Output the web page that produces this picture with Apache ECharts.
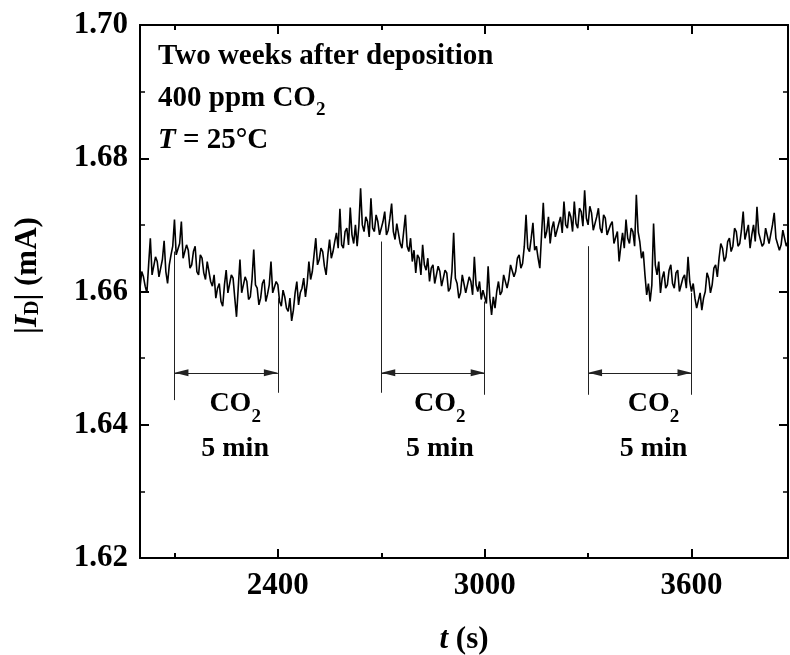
<!DOCTYPE html>
<html>
<head>
<meta charset="utf-8">
<script src="https://cdn.jsdelivr.net/npm/echarts@6/dist/echarts.min.js"></script>
<style>
  html, body { margin: 0; padding: 0; background: #fff; }
  #chart { width: 790px; height: 655px; }
</style>
</head>
<body>
<div id="chart"></div>
<script>
// sampled drain current, one point every 5 s from 2000 s
var tStart = 2000;
var tStep = 5;
var current = [
  1.6605, 1.6630, 1.6622, 1.6608, 1.6598, 1.6640, 1.6680, 1.6625, 1.6628, 1.6652,
  1.6645, 1.6622, 1.6635, 1.6648, 1.6676, 1.6630, 1.6612, 1.6640, 1.6655, 1.6668,
  1.6708, 1.6655, 1.6652, 1.6672, 1.6705, 1.6650, 1.6648, 1.6670, 1.6662, 1.6635,
  1.6640, 1.6660, 1.6668, 1.6630, 1.6625, 1.6655, 1.6650, 1.6628, 1.6618, 1.6645,
  1.6642, 1.6615, 1.6608, 1.6625, 1.6590, 1.6605, 1.6612, 1.6585, 1.6578, 1.6610,
  1.6632, 1.6598, 1.6595, 1.6625, 1.6620, 1.6590, 1.6562, 1.6605, 1.6648, 1.6598,
  1.6600, 1.6622, 1.6615, 1.6588, 1.6592, 1.6618, 1.6663, 1.6610, 1.6605, 1.6580,
  1.6590, 1.6612, 1.6618, 1.6585, 1.6596, 1.6610, 1.6645, 1.6598, 1.6595, 1.6615,
  1.6610, 1.6585, 1.6578, 1.6602, 1.6592, 1.6575, 1.6570, 1.6590, 1.6556, 1.6572,
  1.6598, 1.6615, 1.6580, 1.6598, 1.6605, 1.6620, 1.6592, 1.6612, 1.6645, 1.6618,
  1.6630, 1.6655, 1.6680, 1.6640, 1.6648, 1.6665, 1.6660, 1.6638, 1.6625, 1.6655,
  1.6678, 1.6650, 1.6660, 1.6675, 1.6688, 1.6665, 1.6724, 1.6670, 1.6665, 1.6690,
  1.6695, 1.6670, 1.6726, 1.6685, 1.6672, 1.6700, 1.6668, 1.6698, 1.6755, 1.6700,
  1.6690, 1.6712, 1.6705, 1.6682, 1.6740, 1.6695, 1.6690, 1.6715, 1.6705, 1.6685,
  1.6688, 1.6705, 1.6720, 1.6685, 1.6692, 1.6710, 1.6732, 1.6690, 1.6678, 1.6702,
  1.6700, 1.6672, 1.6665, 1.6690, 1.6715, 1.6668, 1.6660, 1.6680, 1.6645, 1.6662,
  1.6628, 1.6655, 1.6650, 1.6625, 1.6670, 1.6640, 1.6632, 1.6650, 1.6615, 1.6635,
  1.6640, 1.6612, 1.6610, 1.6638, 1.6630, 1.6608, 1.6605, 1.6632, 1.6628, 1.6600,
  1.6605, 1.6630, 1.6688, 1.6620, 1.6612, 1.6590, 1.6598, 1.6625, 1.6625, 1.6598,
  1.6600, 1.6622, 1.6615, 1.6595, 1.6652, 1.6610, 1.6600, 1.6615, 1.6588, 1.6602,
  1.6605, 1.6582, 1.6638, 1.6590, 1.6565, 1.6592, 1.6575, 1.6600, 1.6615, 1.6595,
  1.6600, 1.6625, 1.6628, 1.6605, 1.6618, 1.6640, 1.6640, 1.6622, 1.6630, 1.6650,
  1.6655, 1.6635, 1.6642, 1.6668, 1.6715, 1.6665, 1.6660, 1.6680, 1.6703, 1.6662,
  1.6668, 1.6650, 1.6635, 1.6685, 1.6733, 1.6680, 1.6690, 1.6712, 1.6672, 1.6695,
  1.6705, 1.6682, 1.6680, 1.6702, 1.6712, 1.6688, 1.6735, 1.6700, 1.6695, 1.6720,
  1.6712, 1.6690, 1.6735, 1.6702, 1.6695, 1.6725, 1.6720, 1.6698, 1.6752, 1.6710,
  1.6700, 1.6728, 1.6718, 1.6692, 1.6690, 1.6712, 1.6725, 1.6695, 1.6688, 1.6715,
  1.6710, 1.6685, 1.6682, 1.6700, 1.6705, 1.6672, 1.6675, 1.6690, 1.6645, 1.6668,
  1.6688, 1.6665, 1.6708, 1.6680, 1.6672, 1.6695, 1.6690, 1.6668, 1.6745, 1.6690,
  1.6675, 1.6650, 1.6660, 1.6625, 1.6595, 1.6612, 1.6585, 1.6610, 1.6702, 1.6640,
  1.6625, 1.6645, 1.6598, 1.6620, 1.6630, 1.6605, 1.6610, 1.6632, 1.6640, 1.6612,
  1.6605, 1.6628, 1.6632, 1.6600, 1.6598, 1.6620, 1.6625, 1.6605, 1.6652, 1.6615,
  1.6600, 1.6612, 1.6590, 1.6575, 1.6578, 1.6598, 1.6572, 1.6590, 1.6600, 1.6628,
  1.6620, 1.6598, 1.6610, 1.6635, 1.6640, 1.6622, 1.6650, 1.6672, 1.6665, 1.6645,
  1.6652, 1.6675, 1.6680, 1.6660, 1.6668, 1.6695, 1.6690, 1.6668, 1.6672, 1.6692,
  1.6720, 1.6678, 1.6680, 1.6700, 1.6665, 1.6685, 1.6700, 1.6675, 1.6727, 1.6688,
  1.6690, 1.6668, 1.6672, 1.6695, 1.6698, 1.6672, 1.6675, 1.6700, 1.6718, 1.6680,
  1.6682, 1.6662, 1.6670, 1.6692, 1.6690, 1.6668, 1.6675
];

var xRange = [2000, 3880];
var xMajorTicks = [2400, 3000, 3600];
var xMinorTicks = [2100, 2700, 3300];
var yRange = [1.62, 1.70];
var yStep = 0.02;

// CO2 on/off markers
var edgeTimes = [2100, 2400, 2700, 3000, 3300, 3600];
var edgeTops = [1.6660, 1.6590, 1.6675, 1.6585, 1.6668, 1.6598];
var edgeBottoms = [1.6437, 1.6448, 1.6448, 1.6445, 1.6445, 1.6445];
var co2Windows = [[2100, 2400], [2700, 3000], [3300, 3600]];
var arrowLevel = 1.6478;
var co2LabelTimes = [2276, 2870, 3490];
var co2LabelLevel = 1.6397;

var FONT = '"Liberation Serif", "Times New Roman", serif';

var lineData = current.map(function (v, i) {
  return [tStart + i * tStep, v];
});

var markData = [];
edgeTimes.forEach(function (t, i) {
  markData.push([
    { coord: [t, edgeTops[i]], symbol: 'none' },
    { coord: [t, edgeBottoms[i]], symbol: 'none' }
  ]);
});
co2Windows.forEach(function (w) {
  markData.push([
    { coord: [w[0], arrowLevel], symbol: 'triangle', symbolSize: [7, 14], symbolOffset: [0, 7] },
    { coord: [w[1], arrowLevel], symbol: 'triangle', symbolSize: [7, 14], symbolOffset: [0, 7] }
  ]);
});

function xAxisDef(pos, ticks, len, labels) {
  return {
    type: 'value',
    position: pos,
    min: xRange[0],
    max: xRange[1],
    axisLine: { show: true, lineStyle: { color: '#000', width: 2 } },
    axisTick: { show: true, inside: true, length: len, customValues: ticks, lineStyle: { color: '#000', width: 2 } },
    axisLabel: {
      show: labels,
      customValues: ticks,
      margin: 12,
      color: '#000',
      fontFamily: FONT,
      fontWeight: 'bold',
      fontSize: 31,
      formatter: function (v) { return String(v); }
    },
    splitLine: { show: false }
  };
}

function yAxisDef(pos, labels) {
  return {
    type: 'value',
    position: pos,
    min: yRange[0],
    max: yRange[1],
    interval: yStep,
    axisLine: { show: true, lineStyle: { color: '#000', width: 2 } },
    axisTick: { show: true, inside: true, length: 9, lineStyle: { color: '#000', width: 2 } },
    minorTick: { show: true, splitNumber: 2, length: 5, lineStyle: { color: '#000', width: 1.5 } },
    axisLabel: {
      show: labels,
      margin: 12,
      color: '#000',
      fontFamily: FONT,
      fontWeight: 'bold',
      fontSize: 31,
      formatter: function (v) { return v.toFixed(2); }
    },
    splitLine: { show: false }
  };
}

var xMain = xAxisDef('bottom', xMajorTicks, 9, true);
xMain.name = '{i|t} (s)';
xMain.nameLocation = 'middle';
xMain.nameGap = 66;
xMain.nameTextStyle = {
  color: '#000', fontFamily: FONT, fontWeight: 'bold', fontSize: 31,
  rich: { i: { fontFamily: FONT, fontWeight: 'bold', fontStyle: 'italic', fontSize: 31, color: '#000' } }
};

var yMain = yAxisDef('left', true);
yMain.name = '|{i|I}{s|D}| (mA)';
yMain.nameLocation = 'middle';
yMain.nameGap = 97;
yMain.nameTextStyle = {
  color: '#000', fontFamily: FONT, fontWeight: 'bold', fontSize: 31,
  padding: [0, 0, 0, 32],
  rich: {
    i: { fontFamily: FONT, fontWeight: 'bold', fontStyle: 'italic', fontSize: 31, color: '#000' },
    s: { fontFamily: FONT, fontWeight: 'bold', fontSize: 20, color: '#000', verticalAlign: 'bottom', lineHeight: 20 }
  }
};

var richText = {
  b: { fontFamily: FONT, fontWeight: 'bold', fontSize: 29, color: '#000', lineHeight: 42 },
  i: { fontFamily: FONT, fontWeight: 'bold', fontStyle: 'italic', fontSize: 29, color: '#000', lineHeight: 42 },
  s: { fontFamily: FONT, fontWeight: 'bold', fontSize: 19, color: '#000', verticalAlign: 'bottom', lineHeight: 19 }
};

var chart = echarts.init(document.getElementById('chart'), null, { renderer: 'canvas' });
chart.setOption({
  animation: false,
  backgroundColor: '#fff',
  grid: { left: 140, right: 2, top: 25, bottom: 97, outerBoundsMode: 'none' },
  xAxis: [
    xMain,
    xAxisDef('bottom', xMinorTicks, 5, false),
    xAxisDef('top', xMajorTicks, 9, false),
    xAxisDef('top', xMinorTicks, 5, false)
  ],
  yAxis: [yMain, yAxisDef('right', false)],
  graphic: [{
    type: 'text',
    left: 158,
    top: 42,
    style: {
      text: '{b|Two weeks after deposition}\n{b|400 ppm CO}{s|2}\n{i|T}{b| = 25°C}',
      rich: richText
    }
  }],
  series: [
    {
      type: 'line',
      name: 'current',
      data: lineData,
      showSymbol: false,
      symbol: 'none',
      lineStyle: { color: '#000', width: 1.6 },
      silent: true,
      markLine: {
        silent: true,
        symbol: 'none',
        label: { show: false },
        lineStyle: { color: '#222', width: 1, type: 'solid' },
        itemStyle: { color: '#000' },
        emphasis: { disabled: true },
        data: markData
      }
    },
    {
      type: 'scatter',
      name: 'labels',
      data: co2LabelTimes.map(function (t) { return [t, co2LabelLevel]; }),
      symbolSize: 0,
      silent: true,
      itemStyle: { color: '#000', opacity: 1 },
      label: {
        show: true,
        position: 'inside',
        color: '#000',
        opacity: 1,
        textBorderWidth: 0,
        formatter: '{b|CO}{s|2}\n{b|5 min}',
        rich: {
          b: { fontFamily: FONT, fontWeight: 'bold', fontSize: 28, color: '#000', lineHeight: 45, textBorderWidth: 0 },
          s: { fontFamily: FONT, fontWeight: 'bold', fontSize: 19, color: '#000', verticalAlign: 'bottom', lineHeight: 19, textBorderWidth: 0 }
        }
      }
    }
  ]
});
window.addEventListener('resize', function () {
  chart.resize();
});
</script>
</body>
</html>
